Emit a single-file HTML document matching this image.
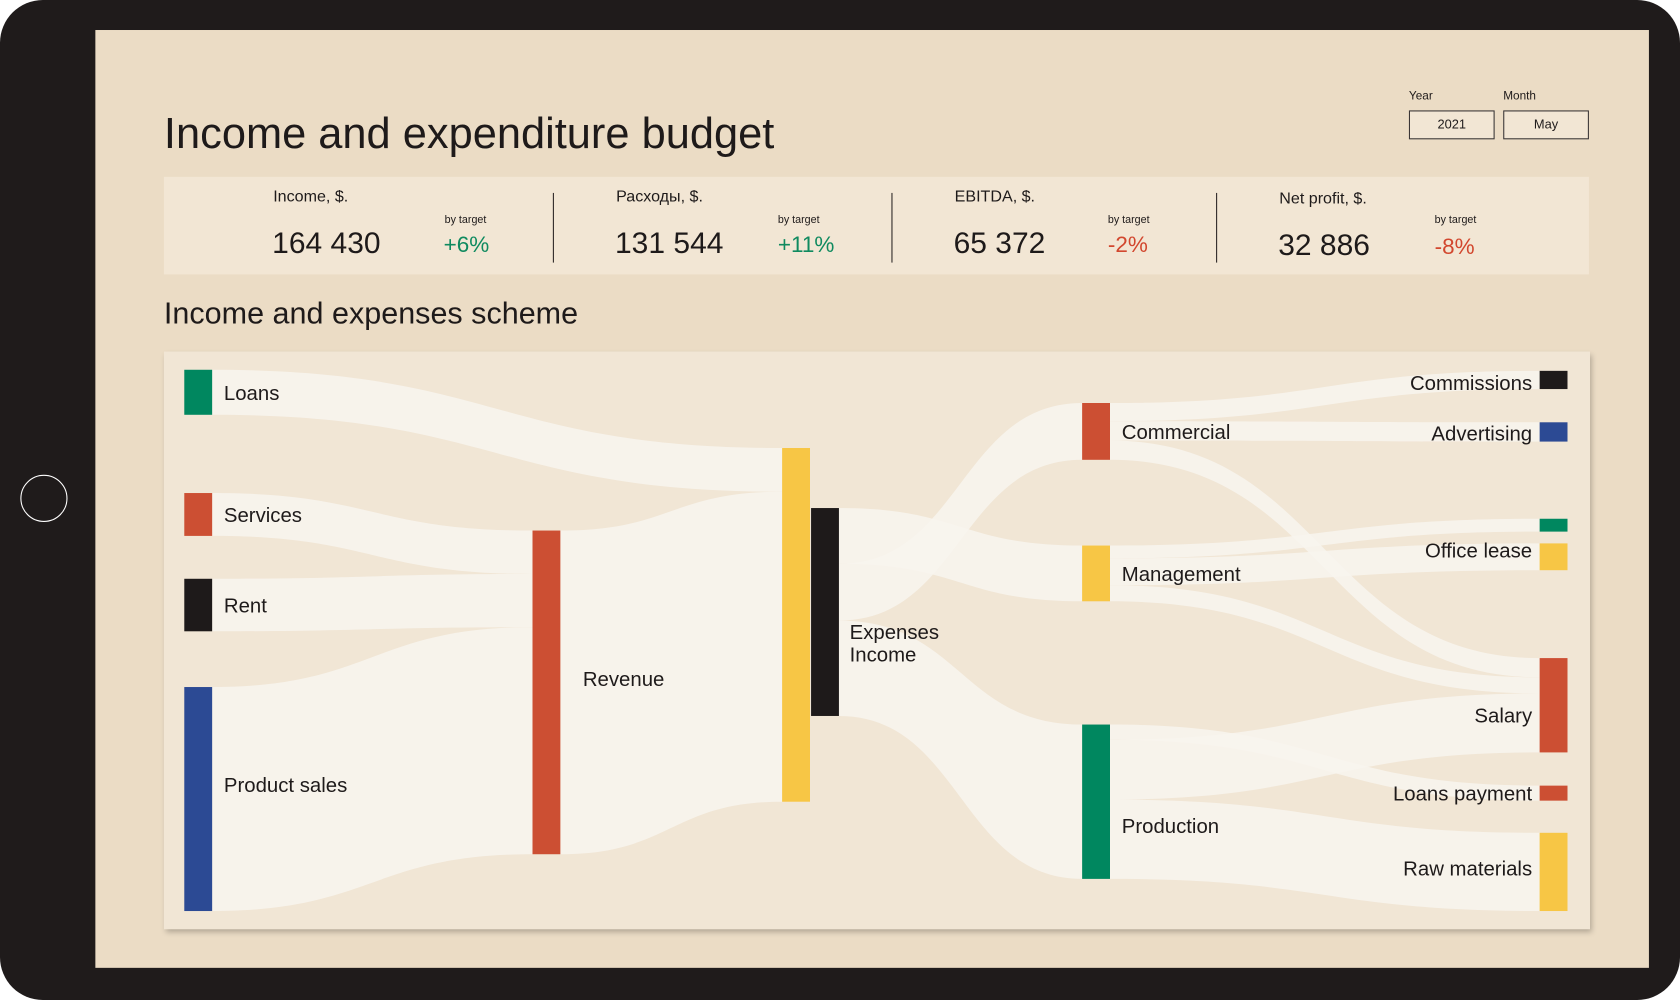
<!DOCTYPE html>
<html><head><meta charset="utf-8"><style>
html,body{margin:0;padding:0;width:1680px;height:1000px;overflow:hidden;background:#fff}
#wrap{position:absolute;left:0;top:0;width:1568px;height:933px;transform:scale(1.071429,1.071811);transform-origin:0 0;font-family:"Liberation Sans",sans-serif;color:#1e1a1a}
.abs{position:absolute}
</style></head><body>
<div id="wrap">
<div class="abs" style="left:0;top:0;width:1568px;height:933px;background:#1f1b1b;border-radius:40px"></div>
<div class="abs" style="left:19px;top:443px;width:42px;height:42px;border:1.5px solid #fff;border-radius:50%"></div>
<div class="abs" style="left:89px;top:28px;width:1450px;height:875px;background:#ebdcc5"></div>
<div class="abs" style="left:153px;top:101px;font-size:40.5px;white-space:nowrap">Income and expenditure budget</div>
<div class="abs" style="left:1315px;top:84px;font-size:11px">Year</div>
<div class="abs" style="left:1403px;top:84px;font-size:11px">Month</div>
<div class="abs" style="left:1315px;top:103px;width:78px;height:25px;border:1.5px solid #3a3535;background:#f2e6d4;font-size:12px;text-align:center;line-height:25px">2021</div>
<div class="abs" style="left:1403px;top:103px;width:78px;height:25px;border:1.5px solid #3a3535;background:#f2e6d4;font-size:12px;text-align:center;line-height:25px">May</div>
<div class="abs" style="left:153px;top:165px;width:1330px;height:91px;background:#f2e6d4"></div>
<div class="abs" style="left:516px;top:180px;width:1px;height:65px;background:#2a2525"></div>
<div class="abs" style="left:832px;top:180px;width:1px;height:65px;background:#2a2525"></div>
<div class="abs" style="left:1135px;top:180px;width:1px;height:65px;background:#2a2525"></div>

<div class="abs" style="left:255px;top:175px;font-size:15px">Income, $.</div>
<div class="abs" style="left:254px;top:211px;font-size:28px">164 430</div>
<div class="abs" style="left:415px;top:200px;font-size:10px">by target</div>
<div class="abs" style="left:414px;top:217px;font-size:21px;color:#0f8a5f">+6%</div>

<div class="abs" style="left:575px;top:175px;font-size:15px">Расходы, $.</div>
<div class="abs" style="left:574px;top:211px;font-size:28px">131 544</div>
<div class="abs" style="left:726px;top:200px;font-size:10px">by target</div>
<div class="abs" style="left:726px;top:217px;font-size:21px;color:#0f8a5f">+11%</div>

<div class="abs" style="left:891px;top:175px;font-size:15px">EBITDA, $.</div>
<div class="abs" style="left:890px;top:211px;font-size:28px">65 372</div>
<div class="abs" style="left:1034px;top:200px;font-size:10px">by target</div>
<div class="abs" style="left:1034px;top:217px;font-size:21px;color:#d2472e">-2%</div>

<div class="abs" style="left:1194px;top:177px;font-size:15px">Net profit, $.</div>
<div class="abs" style="left:1193px;top:213px;font-size:28px">32 886</div>
<div class="abs" style="left:1339px;top:200px;font-size:10px">by target</div>
<div class="abs" style="left:1339px;top:219px;font-size:21px;color:#d2472e">-8%</div>

<div class="abs" style="left:153px;top:277px;font-size:28.5px;white-space:nowrap">Income and expenses scheme</div>
<div class="abs" style="left:153px;top:328px;width:1331px;height:539px;background:#f1e6d5;box-shadow:2px 3px 5px rgba(0,0,0,0.25)"></div>
<svg class="abs" id="sankey" style="left:0;top:0" width="1568" height="933"></svg>
</div>
<script>
const nodeNames=["Loans","Services","Rent","Product sales","Revenue","Income","Expenses","Commercial","Management","Production","Commissions","Advertising","Utilities","Office lease","Salary","Loans payment","Raw materials"];
const nodeValues=[42,40,49,209,302,330,194,53,52,144,17,18,12,25,88,14,73];
const linkSources=[0,1,2,3,0,4,6,6,6,7,7,7,8,8,8,9,9,9];
const linkTargets=[5,4,4,4,5,5,8,7,9,10,11,14,12,13,14,15,14,16];
const linkValues=[42,40,49,209,0,298,52,53,89,17,18,18,12,25,15,14,55,73];
// layout (not data)
const nodeX=[172,172,172,172,497,730,757,1010,1010,1010,1437,1437,1437,1437,1437,1437,1437];
const nodeTop=[345,460,540,641,495,418,474,376,509,676,346,394,484,507,614,733,777];
const nodeColors=["#00875f","#cc4f33","#1e1a1a","#2c4a94","#cc4f33","#f7c645","#1e1a1a","#cc4f33","#f7c645","#00875f","#1e1a1a","#2c4a94","#00875f","#f7c645","#cc4f33","#cc4f33","#f7c645"];
const labelBaseline={3:739,4:640,9:777,13:520,14:674,16:817,10:364,11:411};
const W=26, svg=document.getElementById('sankey'), NS='http://www.w3.org/2000/svg';
const outSum=nodeValues.map(()=>0), inSum=nodeValues.map(()=>0);
linkValues.forEach((v,i)=>{outSum[linkSources[i]]+=v;inSum[linkTargets[i]]+=v;});
const outOff=nodeValues.map(()=>0), inOff=nodeValues.map(()=>0);
const gFlows=document.createElementNS(NS,'g');svg.appendChild(gFlows);
linkValues.forEach((v,i)=>{
  if(v<=0) return;
  const s=linkSources[i], t=linkTargets[i];
  const ss=nodeValues[s]/outSum[s], ts=nodeValues[t]/inSum[t];
  const x0=nodeX[s]+W, x1=nodeX[t];
  const a0=nodeTop[s]+outOff[s]*ss, a1=a0+v*ss;
  const b0=nodeTop[t]+inOff[t]*ts, b1=b0+v*ts;
  outOff[s]+=v; inOff[t]+=v;
  const xm=(x0+x1)/2;
  const p=document.createElementNS(NS,'path');
  p.setAttribute('d',`M${x0},${a0} C${xm},${a0} ${xm},${b0} ${x1},${b0} L${x1},${b1} C${xm},${b1} ${xm},${a1} ${x0},${a1} Z`);
  p.setAttribute('fill','#f8f5ef');p.setAttribute('fill-opacity','0.85');
  
  
  gFlows.appendChild(p);
});
const labelInfo={0:'r',1:'r',2:'r',3:'r',4:'r',7:'r',8:'r',9:'r',10:'l',11:'l',13:'l',14:'l',15:'l',16:'l'};
nodeValues.forEach((v,i)=>{
  const r=document.createElementNS(NS,'rect');
  r.setAttribute('x',nodeX[i]);r.setAttribute('y',nodeTop[i]);r.setAttribute('width',W);r.setAttribute('height',v);r.setAttribute('fill',nodeColors[i]);
  
  
  svg.appendChild(r);
  const side=labelInfo[i]; if(!side) return;
  const tx=document.createElementNS(NS,'text');
  let cy=labelBaseline[i]!==undefined?labelBaseline[i]:nodeTop[i]+v/2+7;
  tx.setAttribute('x',side==='r'?nodeX[i]+W+11+(i===4?10:0):nodeX[i]-7);
  tx.setAttribute('y',cy);tx.setAttribute('font-size','19');tx.setAttribute('fill','#1e1a1a');
  tx.setAttribute('font-family','Liberation Sans, sans-serif');
  if(side==='l') tx.setAttribute('text-anchor','end');
  tx.textContent=nodeNames[i];
  
  
  svg.appendChild(tx);
});
['Expenses','Income'].forEach((w,k)=>{
  const tx=document.createElementNS(NS,'text');
  tx.setAttribute('x',793);tx.setAttribute('y',596+k*21);tx.setAttribute('font-size','19');tx.setAttribute('fill','#1e1a1a');
  tx.setAttribute('font-family','Liberation Sans, sans-serif');
  tx.textContent=w;
  
  
  svg.appendChild(tx);
});
</script>
</body></html>
